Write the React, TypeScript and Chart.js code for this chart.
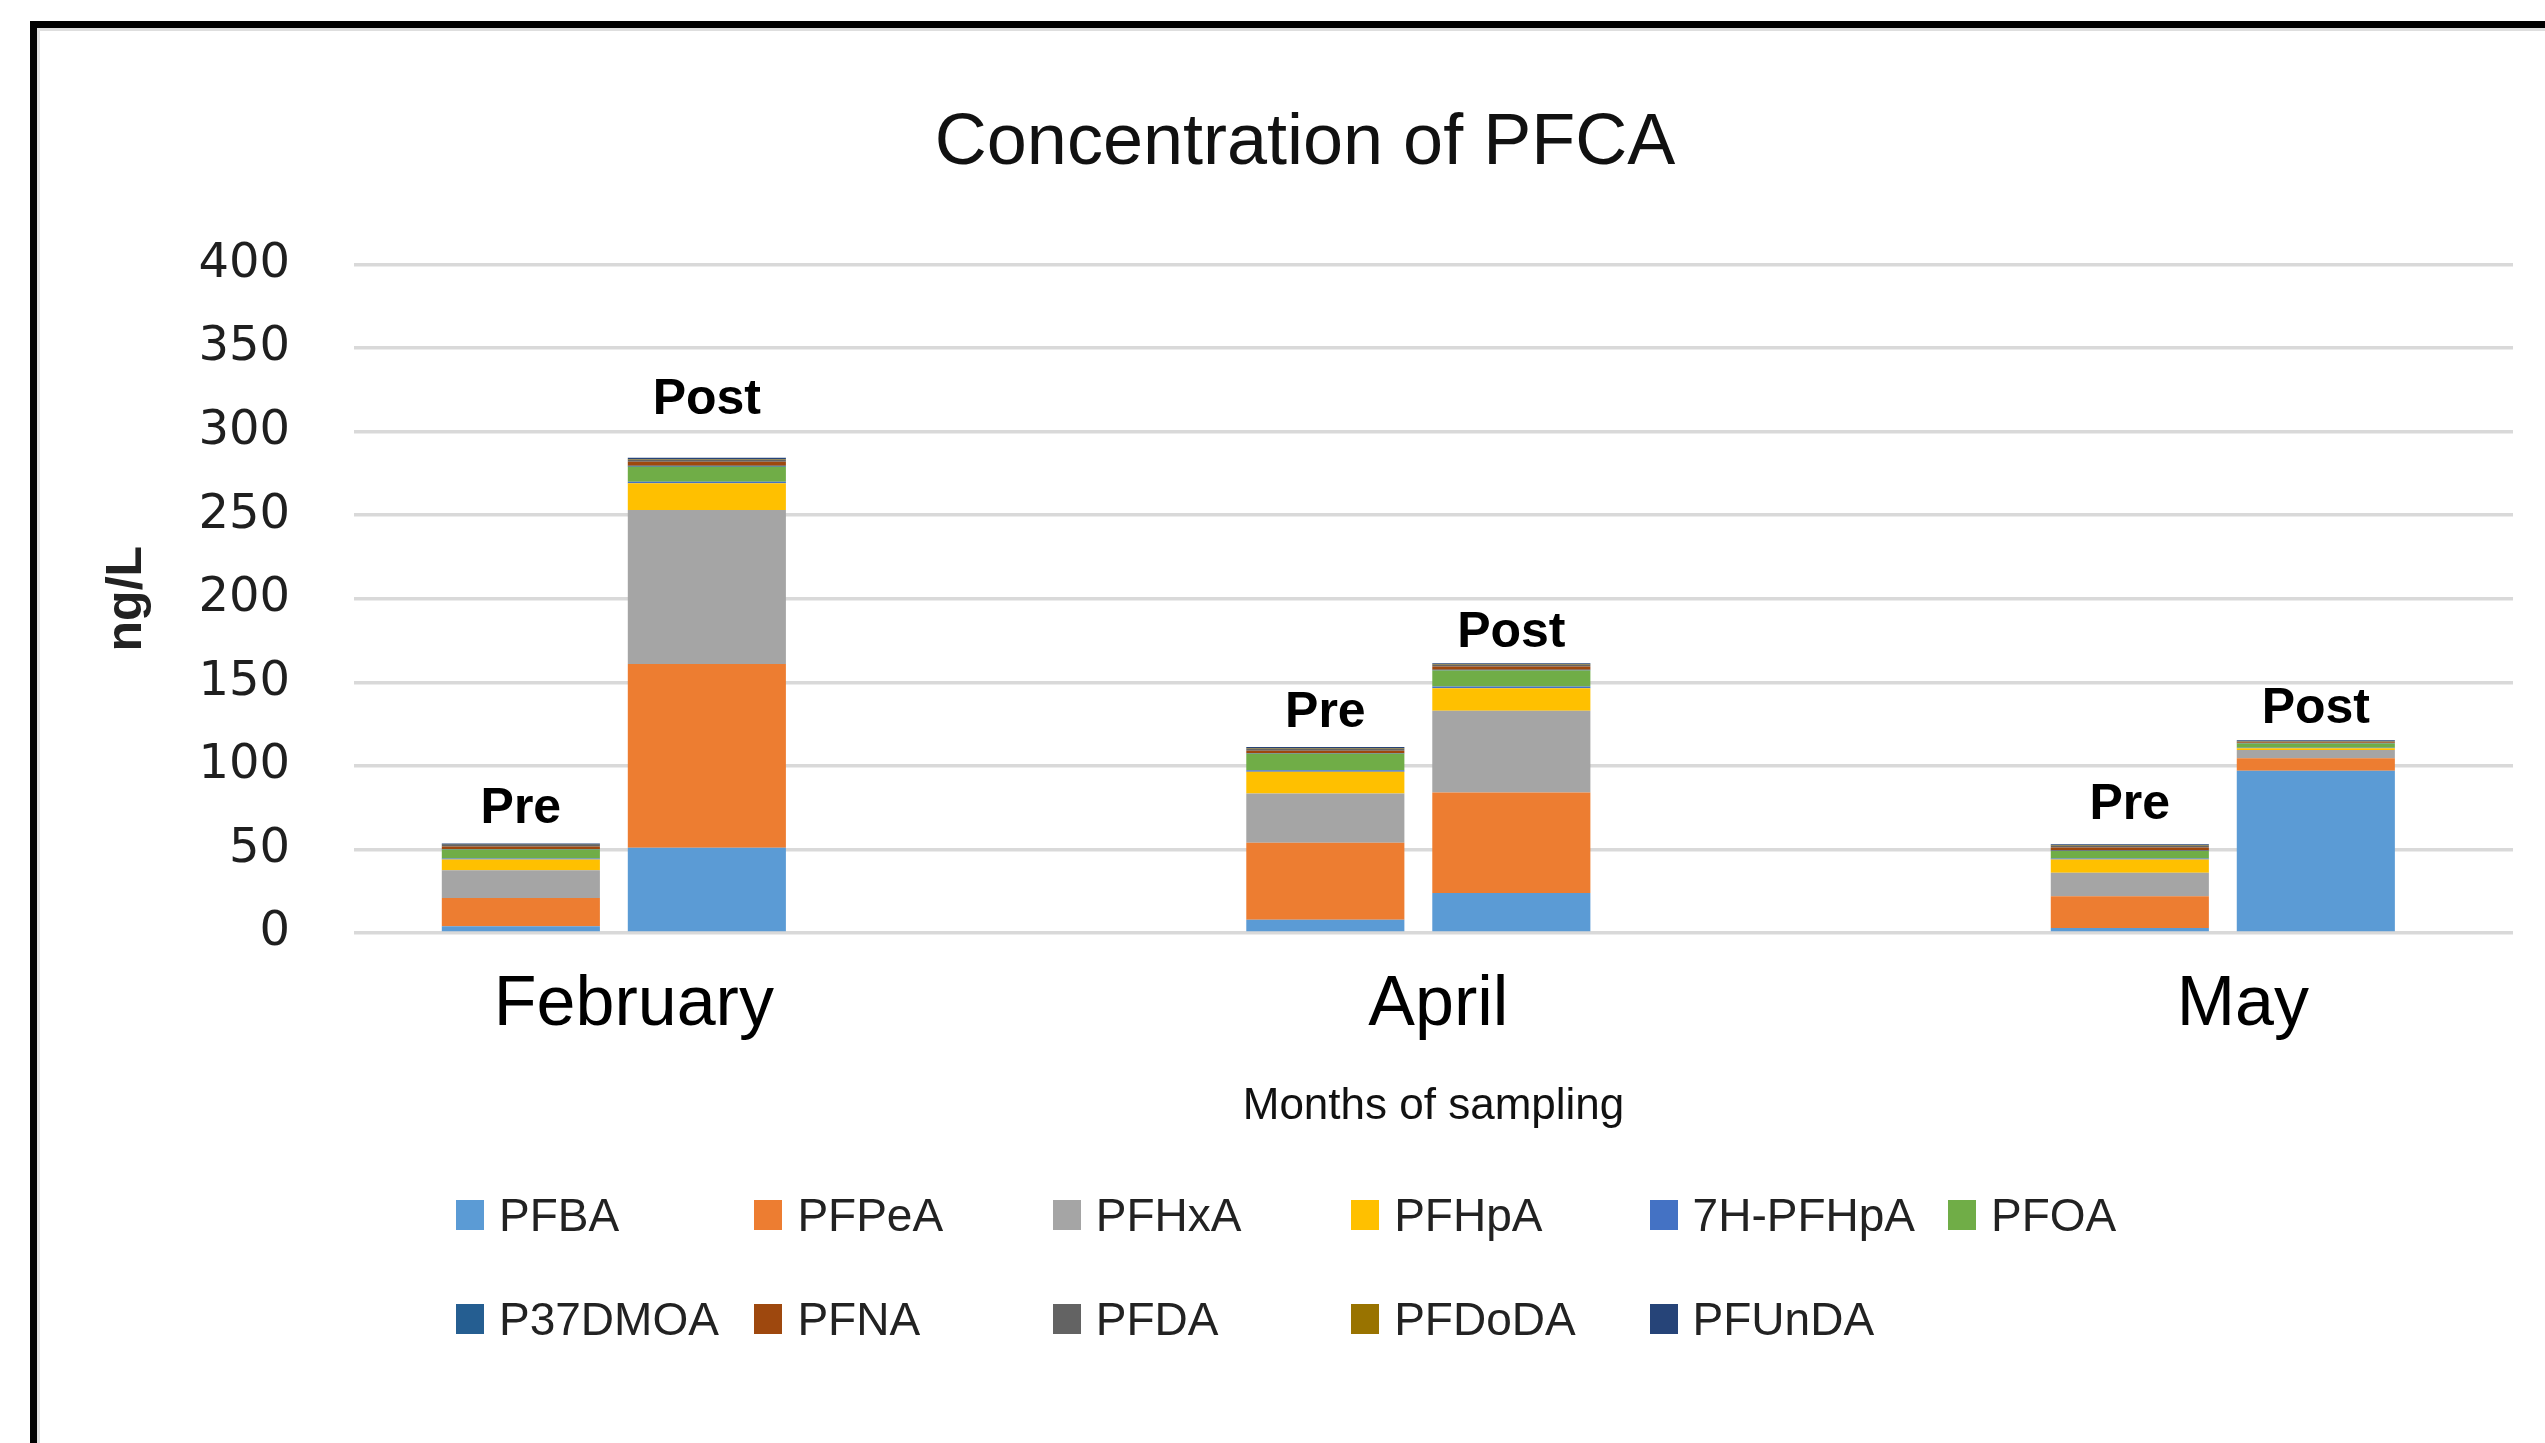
import React, { useEffect, useRef } from 'react';
import { Chart, registerables } from 'chart.js';

Chart.register(...registerables);

// ---------- data ----------
const MONTHS = ['February', 'April', 'May'];
const STACKS = ['Pre', 'Post'];
const SERIES = ['PFBA', 'PFPeA', 'PFHxA', 'PFHpA', '7H-PFHpA', 'PFOA', 'P37DMOA', 'PFNA', 'PFDA', 'PFDoDA', 'PFUnDA'];
const COLORS = ['#5B9BD5', '#ED7D31', '#A5A5A5', '#FFC000', '#4472C4', '#70AD47', '#255E91', '#9E480E', '#636363', '#997300', '#264478'];

// rows follow SERIES order, columns follow MONTHS (ng/L)
const PRE_VALUES = [
  [4, 8, 3],        // PFBA
  [17, 46, 19],     // PFPeA
  [16.5, 29.5, 14], // PFHxA
  [6.5, 13, 8],     // PFHpA
  [0.5, 0.8, 0.5],  // 7H-PFHpA
  [5.5, 10, 4.5],   // PFOA
  [0.3, 0.3, 0.3],  // P37DMOA
  [1.5, 1.5, 1.8],  // PFNA
  [0.8, 1, 1],      // PFDA
  [0.2, 0.3, 0.2],  // PFDoDA
  [0.7, 0.9, 0.8],  // PFUnDA
];
const POST_VALUES = [
  [51, 24, 97],     // PFBA
  [110, 60, 7.5],   // PFPeA
  [92, 49, 5],      // PFHxA
  [16, 13.5, 1],    // PFHpA
  [1, 1, 0.3],      // 7H-PFHpA
  [9, 9.5, 2.5],    // PFOA
  [0.5, 0.5, 0.3],  // P37DMOA
  [2.5, 2, 0.5],    // PFNA
  [1, 0.8, 0.5],    // PFDA
  [0.3, 0.3, 0.2],  // PFDoDA
  [1, 0.8, 0.5],    // PFUnDA
];
const Y_MIN = 0;
const Y_MAX = 400;
const Y_STEP = 50;

// ---------- style / layout ----------
const W = 2545;
const H = 1443;
// gap (px) between bar top and label baseline, [month][stack]
const LABEL_GAPS = [[21, 44], [20, 16], [25, 17]];

const prePostLabels = {
  id: 'prePostLabels',
  afterDatasetsDraw(chart: any) {
    const ctx = chart.ctx;
    ctx.save();
    ctx.font = 'bold 50px "Liberation Sans", Arial, sans-serif';
    ctx.fillStyle = '#000';
    ctx.textAlign = 'center';
    ctx.textBaseline = 'alphabetic';
    STACKS.forEach((stack, si) => {
      const idxs = chart.data.datasets
        .map((_d: any, i: number) => i)
        .filter((i: number) => chart.data.datasets[i].stack === stack);
      const last = idxs[idxs.length - 1];
      const meta = chart.getDatasetMeta(last);
      meta.data.forEach((el: any, j: number) => {
        const { x, y } = el.getProps(['x', 'y'], true);
        ctx.fillText(stack, x, y - LABEL_GAPS[j][si]);
      });
    });
    ctx.restore();
  },
};

export default function App() {
  const ref = useRef<HTMLCanvasElement | null>(null);

  useEffect(() => {
    const canvas = ref.current;
    if (!canvas) return;
    const datasets: any[] = [];
    SERIES.forEach((name, i) => {
      STACKS.forEach((stack) => {
        const vals = stack === 'Pre' ? PRE_VALUES[i] : POST_VALUES[i];
        datasets.push({
          label: name,
          stack,
          data: MONTHS.map((_m, j) => ({ x: j, y: vals[j] })),
          backgroundColor: COLORS[i],
          borderWidth: 0,
          categoryPercentage: 0.4624,
          barPercentage: 0.85,
        });
      });
    });

    const chart = new Chart(canvas, {
      type: 'bar',
      data: { datasets },
      plugins: [prePostLabels],
      options: {
        animation: false,
        responsive: false,
        devicePixelRatio: 1,
        layout: { padding: { left: 97, right: 32, top: 0, bottom: 307 } },
        plugins: {
          legend: { display: false },
          tooltip: { enabled: false },
          title: {
            display: true,
            text: 'Concentration of PFCA',
            color: '#111',
            font: { family: '"Liberation Sans", Arial, sans-serif', size: 72, weight: 'normal' },
            padding: { top: 101, bottom: 77 },
          },
        },
        scales: {
          x: {
            type: 'linear',
            stacked: true,
            offset: false,
            bounds: 'data',
            min: -0.323,
            max: 2.3607,
            afterBuildTicks: (s: any) => {
              s.ticks = MONTHS.map((_m, j) => ({ value: j }));
            },
            afterFit: (s: any) => {
              s.height = 203;
            },
            grid: { display: false, drawTicks: false },
            border: { display: false },
            ticks: {
              padding: 31,
              labelOffset: 20,
              color: '#000',
              font: { family: '"Liberation Sans", Arial, sans-serif', size: 70 },
              callback: (v: any) => MONTHS[v] ?? '',
              maxRotation: 0,
              autoSkip: false,
            },
            title: {
              display: true,
              text: 'Months of sampling',
              color: '#111',
              font: { family: '"Liberation Sans", Arial, sans-serif', size: 44 },
              padding: { top: 0, bottom: 3 },
            },
          },
          y: {
            type: 'linear',
            stacked: true,
            min: Y_MIN,
            max: Y_MAX,
            afterFit: (s: any) => {
              s.width = 257;
            },
            grid: { color: '#d9d9d9', lineWidth: 3.5, drawTicks: false },
            border: { display: false },
            ticks: {
              stepSize: Y_STEP,
              padding: 64,
              color: '#1f1f1f',
              font: { family: '"DejaVu Sans", Verdana, sans-serif', size: 48 },
            },
            title: {
              display: true,
              text: 'ng/L',
              color: '#222',
              font: { family: '"Liberation Sans", Arial, sans-serif', size: 50, weight: 'bold' },
              padding: { top: 0, bottom: 0 },
            },
          },
        },
      } as any,
    });
    return () => chart.destroy();
  }, []);

  const colStart = 456;
  const colStep = 298.4;
  const rowCenters = [1215, 1319];

  return (
    <div style={{ position: 'fixed', left: 0, top: 0, width: W, height: H, background: '#fff', overflow: 'hidden' }}>
      <div
        style={{
          position: 'absolute',
          left: 30,
          top: 21,
          width: W,
          height: H,
          borderLeft: '7px solid #000',
          borderTop: '7px solid #000',
          boxShadow: 'inset 3px 3px 0 #dedede',
          boxSizing: 'border-box',
        }}
      />
      <canvas ref={ref} width={W} height={H} style={{ position: 'absolute', left: 0, top: 0, width: W, height: H }} />
      {SERIES.map((name, i) => {
        const row = i < 6 ? 0 : 1;
        const col = i < 6 ? i : i - 6;
        return (
          <div
            key={name}
            style={{
              position: 'absolute',
              left: colStart + col * colStep,
              top: rowCenters[row] - 20,
              height: 40,
              display: 'flex',
              alignItems: 'center',
              whiteSpace: 'nowrap',
              fontFamily: '"Liberation Sans", Arial, sans-serif',
              fontSize: 46,
              lineHeight: '40px',
              color: '#222',
            }}
          >
            <span style={{ display: 'inline-block', width: 28, height: 30, background: COLORS[i], marginRight: 15 }} />
            <span>{name}</span>
          </div>
        );
      })}
    </div>
  );
}
